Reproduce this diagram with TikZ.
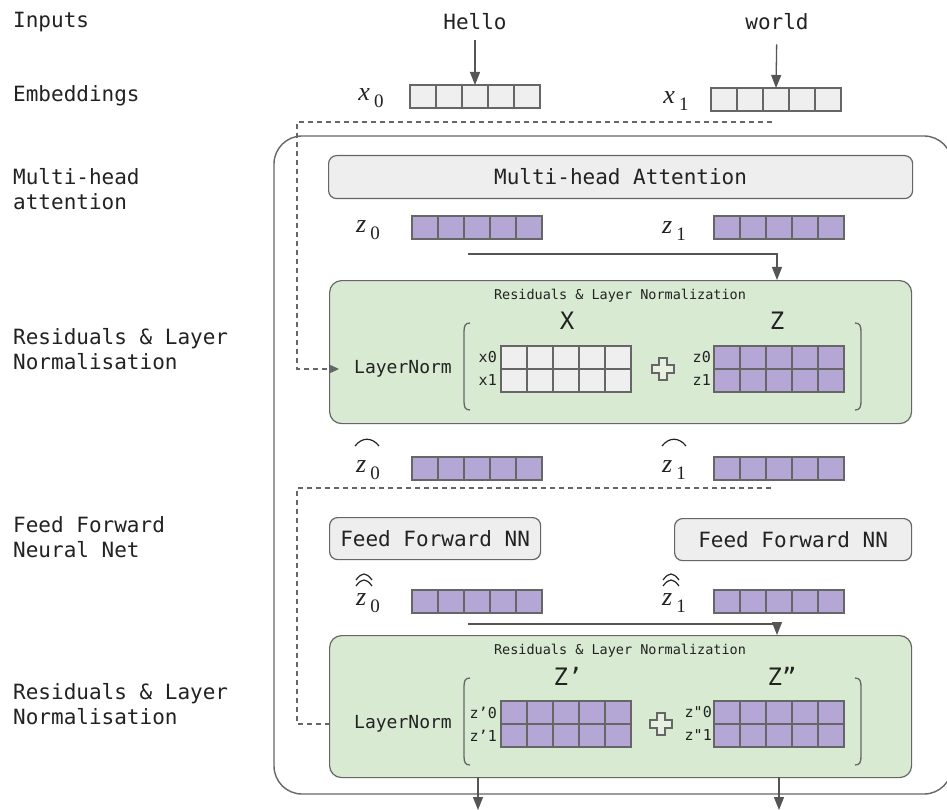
\documentclass[tikz,border=0pt]{standalone}
\usepackage[no-math]{fontspec}
\usetikzlibrary{calc,arrows.meta}
\newfontfamily\mono{DejaVu Sans Mono}
\newfontfamily\tms{Liberation Serif}
\definecolor{cellgray}{HTML}{EFEFEF}
\definecolor{cellpurple}{HTML}{B4A7D6}
\definecolor{boxgray}{HTML}{EEEEEE}
\definecolor{greenfill}{HTML}{D9EAD3}
\definecolor{edge}{HTML}{666666}
\definecolor{arrowc}{HTML}{555555}
\definecolor{txtc}{HTML}{222222}
\newcommand\vecbox[5]{%
  \node[cellnode, fill=#4, minimum width=130pt, minimum height=#5*23pt, anchor=north west] (#1) at (#2,#3) {};
  \foreach \k in {1,...,4}{\draw[cellline] ($(#1.north west)!\k/5!(#1.north east)$) -- ($(#1.south west)!\k/5!(#1.south east)$);}
  \ifnum#5=2 \draw[cellline] (#1.west) -- (#1.east);\fi
}
\newcommand\sublbl[2]{{\itshape #1}\hspace{4pt}\raisebox{-7pt}{\fontsize{19}{20}\selectfont #2}}
\begin{document}
\begin{tikzpicture}[x=1pt,y=-1pt,
  lbl/.style={font=\mono\fontsize{21}{24.5}\selectfont, text=txtc, align=left, anchor=west, inner sep=0pt},
  txt/.style={font=\mono\fontsize{21}{24.5}\selectfont, text=txtc, inner sep=0pt},
  mlbl/.style={font=\tms\fontsize{26}{30}\selectfont, text=txtc, inner sep=0pt},
  small/.style={font=\mono\fontsize{13.5}{15}\selectfont, text=txtc, inner sep=0pt},
  rowlbl/.style={font=\mono\fontsize{15}{17}\selectfont, text=txtc, inner sep=0pt, anchor=east},
  big/.style={font=\mono\fontsize{24}{27}\selectfont, text=txtc, inner sep=0pt},
  lnorm/.style={font=\mono\fontsize{18}{20}\selectfont, text=txtc, inner sep=0pt},
  cellnode/.style={draw=edge, line width=1.3pt, inner sep=0pt, outer sep=0pt},
  cellline/.style={draw=edge, line width=1.3pt},
  graybox/.style={draw=edge, line width=1.2pt, fill=boxgray, rounded corners=8pt, anchor=north west, inner sep=0pt, font=\mono\fontsize{21}{24.5}\selectfont, text=txtc},
  greenbox/.style={draw=edge, line width=1.2pt, fill=greenfill, rounded corners=12pt, anchor=north west, inner sep=0pt},
  arr/.style={draw=arrowc, line width=1.3pt, -{Triangle[length=13pt,width=10pt]}},
  dasharr/.style={draw=edge, line width=1.2pt, dash pattern=on 5pt off 4pt, -{Triangle[length=10pt,width=9pt]}},
  paren/.style={draw=edge, line width=1.3pt},
  hatline/.style={draw=txtc, line width=1.2pt},
  plusshape/.style={draw=edge, line width=1.1pt, fill=white, fill opacity=0.35},
]
\fill[white] (0,0) rectangle (947,810);
\useasboundingbox (0,0) rectangle (947,810);

% left labels
\node[lbl] (Lin) at (13,22) {Inputs};
\node[lbl] (Lemb) at (13,96) {Embeddings};
\node[lbl] (Lmha) at (13,189) {Multi-head\\attention};
\node[lbl] (Lres1) at (13,349) {Residuals \& Layer\\Normalisation};
\node[lbl] (Lffn) at (13,537) {Feed Forward\\Neural Net};
\node[lbl] (Lres2) at (13,704) {Residuals \& Layer\\Normalisation};

% outer box
\draw[draw=edge, line width=1.4pt, rounded corners=28pt] (274,136) rectangle (952,794);

% inputs
\node[txt] (hello) at (475,22) {Hello};
\node[txt] (world) at (777,22) {world};

% embeddings
\node[mlbl] (lx0) at (371,98) {\sublbl{x}{0}};
\node[mlbl] (lx1) at (676,101) {\sublbl{x}{1}};
\vecbox{x0}{410}{85}{cellgray}{1}
\vecbox{x1}{711}{88}{cellgray}{1}
\draw[arr, shorten <=10pt] (hello) -- (x0.north);
\draw[arr, shorten <=14pt] (world) -- (x1.north);

% multi-head attention
\node[graybox, minimum width=584pt, minimum height=43pt] (mha) at (328,155) {Multi-head Attention};
\node[mlbl] (lz0) at (368,230) {\sublbl{z}{0}};
\node[mlbl] (lz1) at (674,231) {\sublbl{z}{1}};
\vecbox{z0}{412}{216}{cellpurple}{1}
\vecbox{z1}{714}{216}{cellpurple}{1}

% residual block 1
\node[greenbox, minimum width=582pt, minimum height=143pt] (g1) at (329,280) {};
\node[small] (t1) at (620,296) {Residuals \& Layer Normalization};
\node[big] (Xl) at (567,321) {X};
\node[big] (Zl) at (777,321) {Z};
\node[lnorm] (ln1) at (403,369) {LayerNorm};
\vecbox{X}{501}{346}{cellgray}{2}
\vecbox{Z}{714}{346}{cellpurple}{2}
\node[rowlbl] (rx0) at (497,357.5) {x0};
\node[rowlbl] (rx1) at (497,380.5) {x1};
\node[rowlbl] (rz0) at (711,357.5) {z0};
\node[rowlbl] (rz1) at (711,380.5) {z1};
\draw[paren] (470,323) .. controls (465,323) and (464,326) .. (464,332) -- (464,401) .. controls (464,407) and (465,410) .. (470,410);
\draw[paren] (855,323) .. controls (860,323) and (861,326) .. (861,332) -- (861,401) .. controls (861,407) and (860,410) .. (855,410);
\draw[plusshape] (659,358) -- (667,358) -- (667,365) -- (674,365) -- (674,373) -- (667,373) -- (667,380) -- (659,380) -- (659,373) -- (652,373) -- (652,365) -- (659,365) -- cycle;

\coordinate (a1s) at (468,254);
\coordinate (a1e) at (777,280);
\draw[arr] (a1s) -| (a1e);

\coordinate (r1a) at (772,122);
\coordinate (r1b) at (297,122);
\coordinate (r1e) at (339,369);
\draw[dasharr] (r1a) -- (r1b) |- (r1e);

% z hat
\node[mlbl] (lzh0) at (368,470) {\sublbl{z}{0}};
\node[mlbl] (lzh1) at (674,470) {\sublbl{z}{1}};
\draw[hatline] (355,446) .. controls (362,437) and (372,437) .. (379,446);
\draw[hatline] (662,446) .. controls (669,437) and (679,437) .. (686,446);
\vecbox{zh0}{412}{457}{cellpurple}{1}
\vecbox{zh1}{714}{457}{cellpurple}{1}

\coordinate (r2a) at (771,488);
\coordinate (r2b) at (297,488);
\coordinate (r2e) at (339,724);
\draw[dasharr] (r2a) -- (r2b) |- (r2e);

% feed forward
\node[graybox, minimum width=211pt, minimum height=42pt] (ffn0) at (329,517) {Feed Forward NN};
\node[graybox, minimum width=237pt, minimum height=42pt] (ffn1) at (674,518) {Feed Forward NN};

% z double hat
\node[mlbl] (lzhh0) at (368,603) {\sublbl{z}{0}};
\node[mlbl] (lzhh1) at (674,603) {\sublbl{z}{1}};
\draw[hatline] (356,580) .. controls (362,572) and (366,572) .. (372,580);
\draw[hatline] (356,586) .. controls (362,578) and (366,578) .. (372,586);
\draw[hatline] (663,580) .. controls (669,572) and (673,572) .. (679,580);
\draw[hatline] (663,586) .. controls (669,578) and (673,578) .. (679,586);
\vecbox{zhh0}{412}{590}{cellpurple}{1}
\vecbox{zhh1}{714}{590}{cellpurple}{1}

% residual block 2
\node[greenbox, minimum width=582pt, minimum height=142pt] (g2) at (329,635) {};
\node[small] (t2) at (620,651) {Residuals \& Layer Normalization};
\node[big] (Zpl) at (568,676) {Z’};
\node[big] (Zppl) at (782,676) {Z”};
\node[lnorm] (ln2) at (403,724) {LayerNorm};
\vecbox{Zp}{501}{701}{cellpurple}{2}
\vecbox{Zpp}{714}{701}{cellpurple}{2}
\node[rowlbl] (rzp0) at (497,712.5) {z’0};
\node[rowlbl] (rzp1) at (497,735.5) {z’1};
\node[rowlbl] (rzpp0) at (712,712.5) {z"0};
\node[rowlbl] (rzpp1) at (712,735.5) {z"1};
\draw[paren] (470,678) .. controls (465,678) and (464,681) .. (464,687) -- (464,756) .. controls (464,762) and (465,765) .. (470,765);
\draw[paren] (855,678) .. controls (860,678) and (861,681) .. (861,687) -- (861,756) .. controls (861,762) and (860,765) .. (855,765);
\draw[plusshape] (657,713) -- (665,713) -- (665,720) -- (672,720) -- (672,728) -- (665,728) -- (665,735) -- (657,735) -- (657,728) -- (650,728) -- (650,720) -- (657,720) -- cycle;

\coordinate (a2s) at (468,624);
\coordinate (a2e) at (777,635);
\draw[arr] (a2s) -| (a2e);

% outputs
\coordinate (o1s) at (478,777);
\coordinate (o1e) at (478,810);
\coordinate (o2s) at (779,777);
\coordinate (o2e) at (779,810);
\draw[arr] (o1s) -- (o1e);
\draw[arr] (o2s) -- (o2e);
\end{tikzpicture}
\end{document}
